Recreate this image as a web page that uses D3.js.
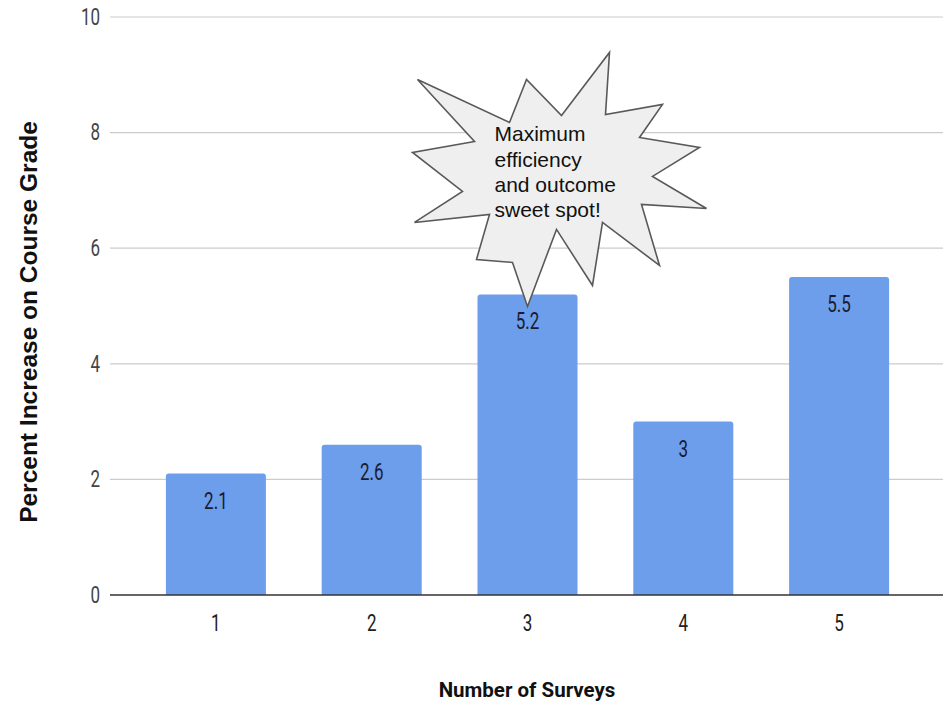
<!DOCTYPE html>
<html>
<head>
<meta charset="utf-8">
<script src="https://cdn.jsdelivr.net/npm/d3@7"></script>
<style>
  html, body { margin: 0; padding: 0; background: #fff; }
  svg { display: block; }
</style>
</head>
<body>
<svg id="chart" width="946" height="703"></svg>
<script>
// ---- data ----
const categories = ["1", "2", "3", "4", "5"];
const values = [2.1, 2.6, 5.2, 3, 5.5];
const yTicks = [0, 2, 4, 6, 8, 10];
const xTitle = "Number of Surveys";
const yTitle = "Percent Increase on Course Grade";
const calloutLines = ["Maximum", "efficiency", "and outcome", "sweet spot!"];
const calloutCategory = "3";

// ---- layout ----
const svg = d3.select("#chart");
const plotLeft = 110, plotRight = 943, plotTop = 17, plotBottom = 595;
const numFont = "Roboto, sans-serif";
const numSize = 23, numSqueeze = 0.74;

const x = d3.scaleBand()
  .domain(categories)
  .range([138, 917])
  .paddingInner(0.358)
  .paddingOuter(0.179);

const y = d3.scaleLinear().domain([0, 10]).range([plotBottom, plotTop]);

// gridlines
svg.append("g")
  .selectAll("line")
  .data(yTicks.filter(d => d !== 0))
  .join("line")
  .attr("x1", plotLeft).attr("x2", plotRight)
  .attr("y1", d => y(d)).attr("y2", d => y(d))
  .attr("stroke", "#cccccc").attr("stroke-width", 1.2);

// y axis labels
const yAxis = d3.axisLeft(y).tickValues(yTicks).tickSize(0).tickPadding(0);
const yg = svg.append("g").attr("transform", `translate(${plotLeft - 10},0)`).call(yAxis);
yg.select(".domain").remove();
yg.selectAll("text")
  .attr("font-family", numFont)
  .attr("font-size", numSize)
  .attr("fill", "#444")
  .attr("transform", `scale(${numSqueeze},1)`);

// bars with rounded top corners
function barPath(d, i) {
  const x0 = x(categories[i]), w = x.bandwidth();
  const yt = y(d), yb = y(0), r = 3;
  return `M${x0},${yb}V${yt + r}Q${x0},${yt} ${x0 + r},${yt}H${x0 + w - r}Q${x0 + w},${yt} ${x0 + w},${yt + r}V${yb}Z`;
}
svg.append("g")
  .selectAll("path")
  .data(values)
  .join("path")
  .attr("d", barPath)
  .attr("fill", "#6d9eeb");

// x axis
const xAxis = d3.axisBottom(x).tickSize(0).tickPadding(0);
const xg = svg.append("g").attr("transform", `translate(0,${plotBottom + 20})`).call(xAxis);
xg.select(".domain").remove();
xg.selectAll("text")
  .attr("font-family", numFont)
  .attr("font-size", numSize)
  .attr("fill", "#222")
  .attr("transform", `scale(${numSqueeze},1)`);

svg.append("line")
  .attr("x1", plotLeft).attr("x2", plotRight)
  .attr("y1", y(0)).attr("y2", y(0))
  .attr("stroke", "#333").attr("stroke-width", 1.5);

// bar value labels
svg.append("g")
  .selectAll("text")
  .data(values)
  .join("text")
  .attr("transform", (d, i) => `translate(${x(categories[i]) + x.bandwidth() / 2},${y(d) + 35}) scale(${numSqueeze},1)`)
  .attr("text-anchor", "middle")
  .attr("font-family", numFont)
  .attr("font-size", numSize)
  .attr("fill", "#1b1b30")
  .text(d => d);

// axis titles
svg.append("text")
  .attr("x", 527).attr("y", 697)
  .attr("text-anchor", "middle")
  .attr("font-family", "Roboto, sans-serif")
  .attr("font-weight", "bold")
  .attr("font-size", 20.5)
  .attr("fill", "#111")
  .text(xTitle);

svg.append("text")
  .attr("transform", "translate(37,322) rotate(-90)")
  .attr("text-anchor", "middle")
  .attr("font-family", "Liberation Sans, Arial, sans-serif")
  .attr("font-weight", "bold")
  .attr("font-size", 24.5)
  .attr("fill", "#111")
  .text(yTitle);

// callout starburst, positioned relative to the 3rd bar's top
const cx = x(calloutCategory) + x.bandwidth() / 2;
const cy = y(values[categories.indexOf(calloutCategory)]);
// outline offsets from the anchor (bottom spike tip)
const burst = [
  [-110,-227],[-18,-184],[-1,-227],[34,-191],[82,-254],[78,-192],[135,-202],
  [112,-169],[172,-159],[125,-130],[179,-98],[114,-102],[132,-41],[75,-84],
  [65,-21],[29,-77],[0,0],[-15,-44],[-51,-47],[-38,-92],[-113,-84],[-65,-115],
  [-115,-154],[-53,-165]
];
svg.append("polygon")
  .attr("points", burst.map(p => [cx + p[0], cy + 12 + p[1]].join(",")).join(" "))
  .attr("fill", "#efefef")
  .attr("stroke", "#595959")
  .attr("stroke-width", 1.6)
  .attr("stroke-linejoin", "miter");

svg.append("g")
  .selectAll("text")
  .data(calloutLines)
  .join("text")
  .attr("x", cx - 33)
  .attr("y", (d, i) => cy - 153 + i * 25.3)
  .attr("font-family", "Liberation Sans, Arial, sans-serif")
  .attr("font-size", 21)
  .attr("fill", "#111")
  .text(d => d);
</script>
</body>
</html>
